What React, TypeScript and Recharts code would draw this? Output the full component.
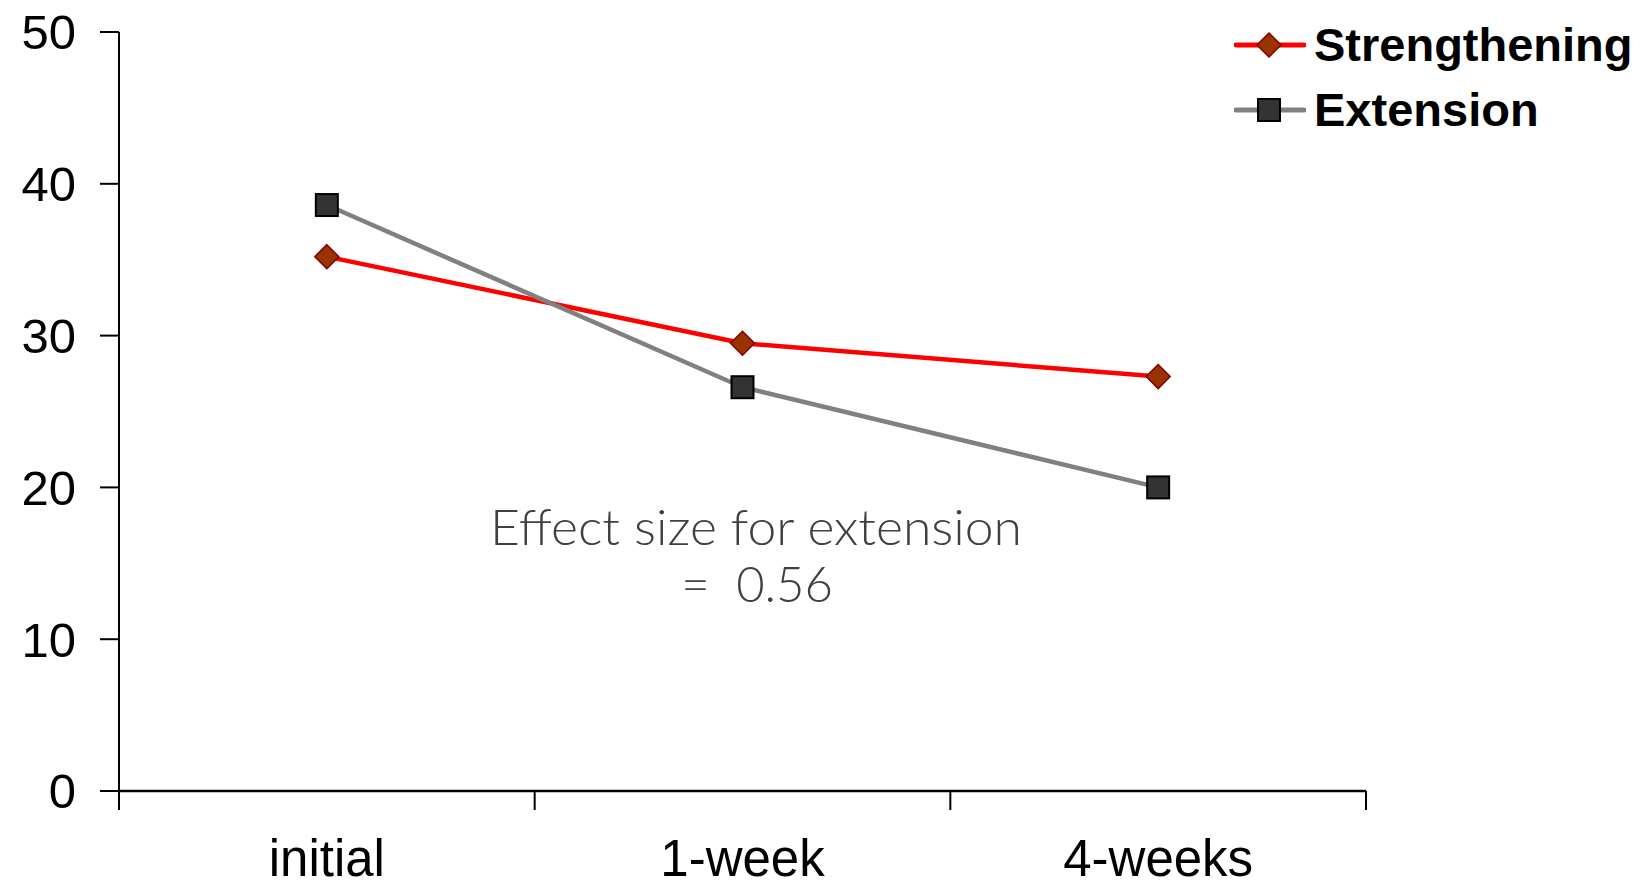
import { Legend, Line, LineChart, XAxis, YAxis } from "recharts";

const categories = ["initial", "1-week", "4-weeks"];
const strengthening = [35.2, 29.5, 27.3];
const extension = [38.6, 26.6, 20.0];
const yTicks = [0, 10, 20, 30, 40, 50];

const SERIES = [
  { key: "strengthening", name: "Strengthening", stroke: "#ff0000", marker: "diamond" },
  { key: "extension", name: "Extension", stroke: "#808080", marker: "square" },
];

const data = categories.map((c, i) => ({
  name: c,
  strengthening: strengthening[i],
  extension: extension[i],
}));

const AXIS_FONT = "'Liberation Sans', Arial, sans-serif";
const NOTE_FONT = "Lato, 'Open Sans', sans-serif";

function Diamond({ cx, cy }: any) {
  if (cx == null || cy == null) return null;
  const r = 12;
  return (
    <path
      d={`M${cx},${cy - r} L${cx + r},${cy} L${cx},${cy + r} L${cx - r},${cy} Z`}
      fill="#993300"
      stroke="#800000"
      strokeWidth={1.5}
    />
  );
}

function Square({ cx, cy }: any) {
  if (cx == null || cy == null) return null;
  const h = 11;
  return (
    <rect x={cx - h} y={cy - h} width={h * 2} height={h * 2} fill="#333333" stroke="#000" strokeWidth={2} />
  );
}

// category labels at band centres, tick marks on the band boundaries
function CategoryTick({ x, y, payload, index, visibleTicksCount }: any) {
  const half = payload.offset ?? 0;
  const last = index === visibleTicksCount - 1;
  return (
    <g>
      <line x1={x - half} x2={x - half} y1={y} y2={y + 19} stroke="#000" strokeWidth={2} />
      {last && <line x1={x + half} x2={x + half} y1={y} y2={y + 19} stroke="#000" strokeWidth={2} />}
      <text x={x} y={y + 85} textAnchor="middle" fontSize={51} fontFamily={AXIS_FONT} fill="#000">
        {payload.value}
      </text>
    </g>
  );
}

function LegendBox() {
  return (
    <div style={{ fontFamily: AXIS_FONT, fontWeight: "bold", fontSize: 47, color: "#000" }}>
      {SERIES.map((s) => (
        <div key={s.key} style={{ display: "flex", alignItems: "center", height: 65 }}>
          <svg width={72} height={30} style={{ marginRight: 8 }}>
            <line x1={2} x2={70} y1={15} y2={15} stroke={s.stroke} strokeWidth={5} strokeLinecap="round" />
            {s.marker === "diamond" ? <Diamond cx={35} cy={15} /> : <Square cx={35} cy={15} />}
          </svg>
          <span>{s.name}</span>
        </div>
      ))}
    </div>
  );
}

export default function App() {
  return (
    <div style={{ position: "absolute", left: 0, top: 0, width: 1650, height: 888, background: "#fff" }}>
      <LineChart width={1650} height={888} data={data} margin={{ top: 32, right: 284, bottom: 0, left: 0 }}>
        <XAxis
          dataKey="name"
          scale="band"
          height={97}
          tickLine={false}
          tickSize={0}
          tickMargin={0}
          axisLine={{ stroke: "#000", strokeWidth: 2.5 }}
          tick={<CategoryTick />}
          interval={0}
        />
        <YAxis
          width={119}
          domain={[0, 50]}
          ticks={yTicks}
          tickSize={19}
          tickMargin={24}
          axisLine={{ stroke: "#000", strokeWidth: 2 }}
          tickLine={{ stroke: "#000", strokeWidth: 2 }}
          tick={{ fontSize: 49, fontFamily: AXIS_FONT, fill: "#000" }}
        />
        <Legend
          layout="horizontal"
          verticalAlign="middle"
          align="center"
          content={<LegendBox />}
          wrapperStyle={{ left: 1234, top: 12, width: 420 }}
        />
        <Line
          dataKey="strengthening"
          name="Strengthening"
          stroke="#ff0000"
          strokeWidth={4.5}
          dot={<Diamond />}
          activeDot={false}
          isAnimationActive={false}
        />
        <Line
          dataKey="extension"
          name="Extension"
          stroke="#808080"
          strokeWidth={4.5}
          dot={<Square />}
          activeDot={false}
          isAnimationActive={false}
        />
      </LineChart>
      <svg
        width={1650}
        height={888}
        style={{ position: "absolute", left: 0, top: 0, pointerEvents: "none" }}
      >
        <text
          x={756}
          y={545}
          textAnchor="middle"
          fontSize={49}
          fontFamily={NOTE_FONT}
          fontWeight={300}
          fill="#404040"
          textLength={532}
          lengthAdjust="spacingAndGlyphs"
        >
          Effect size for extension
        </text>
        <text
          x={757}
          y={602}
          textAnchor="middle"
          fontSize={49}
          fontFamily={NOTE_FONT}
          fontWeight={300}
          fill="#404040"
          xmlSpace="preserve"
        >
          {"=  0.56"}
        </text>
      </svg>
    </div>
  );
}
